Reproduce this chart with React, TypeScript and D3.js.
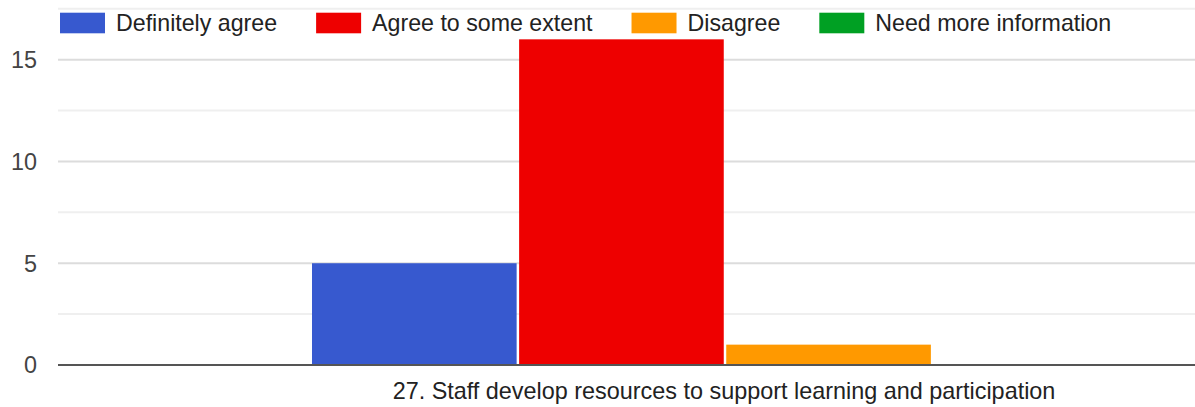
import React, { useMemo } from "react";
import * as d3 from "d3";

// Survey responses for a single statement
const categories = ["27. Staff develop resources to support learning and participation"];
const seriesNames = ["Definitely agree", "Agree to some extent", "Disagree", "Need more information"];
const seriesColors = ["#3759cf", "#ee0000", "#ff9900", "#00a023"];
const seriesValues = [[5], [16], [1], [0]];
const majorTicks = [0, 5, 10, 15];
const minorTicks = [2.5, 7.5, 12.5, 17.5];

const W = 1195;
const H = 407;
const FONT = "Arial, 'Liberation Sans', sans-serif";
const FS = 23.2;
const AXIS_FS = 23.4;

function textWidth(s: string): number {
  const c = document.createElement("canvas").getContext("2d");
  if (!c) return s.length * FS * 0.5;
  c.font = `${FS}px ${FONT}`;
  return c.measureText(s).width;
}

export default function App() {
  const left = 58;
  const right = 1392; // plot continues past the visible frame
  const top = 8.8;
  const bottom = 365;

  const x = d3.scaleBand<string>().domain(categories).range([left, right]).paddingInner(0).paddingOuter(0.3075);
  const xs = d3.scaleBand<string>().domain(seriesNames).range([0, x.bandwidth()]).paddingInner(0.012).paddingOuter(0);
  const y = d3.scaleLinear().domain([0, 17.5]).range([bottom, top]);

  const legend = useMemo(() => {
    let cx = 60;
    return seriesNames.map((name, i) => {
      const item = { name, color: seriesColors[i], x: cx };
      cx += 45 + 11 + textWidth(name) + 39;
      return item;
    });
  }, []);

  return (
    <svg width={W} height={H} style={{ position: "absolute", left: 0, top: 0, display: "block", background: "#fff" }} fontFamily={FONT}>
      {/* gridlines */}
      {minorTicks.map((t) => (
        <line key={"m" + t} x1={left} x2={W} y1={y(t)} y2={y(t)} stroke="#efefef" strokeWidth={2} />
      ))}
      {majorTicks.filter((t) => t !== 0).map((t) => (
        <line key={"g" + t} x1={left} x2={W} y1={y(t)} y2={y(t)} stroke="#dcdcdc" strokeWidth={2} />
      ))}
      {/* y tick labels */}
      {majorTicks.map((t) => (
        <text key={"t" + t} x={37} y={y(t)} dy="0.36em" textAnchor="end" fontSize={AXIS_FS} fill="#444">
          {t}
        </text>
      ))}
      {/* bars */}
      {categories.map((c, ci) => (
        <g key={c} transform={`translate(${x(c)},0)`}>
          {seriesNames.map((s, si) => {
            const v = seriesValues[si][ci];
            if (v <= 0) return null;
            return (
              <rect
                key={s}
                x={xs(s)}
                y={y(v)}
                width={xs.bandwidth()}
                height={y(0) - y(v)}
                fill={seriesColors[si]}
              />
            );
          })}
        </g>
      ))}
      {/* baseline */}
      <line x1={left} x2={W} y1={y(0)} y2={y(0)} stroke="#555" strokeWidth={2} />
      {/* category labels */}
      {categories.map((c) => (
        <text key={"c" + c} x={(x(c) ?? 0) + x.bandwidth() / 2 - 1} y={399} textAnchor="middle" fontSize={AXIS_FS} fill="#222">
          {c}
        </text>
      ))}
      {/* legend */}
      {legend.map((l) => (
        <g key={l.name}>
          <rect x={l.x} y={12.7} width={45} height={20.6} fill={l.color} />
          <text x={l.x + 45 + 11} y={31} fontSize={FS} fill="#222">
            {l.name}
          </text>
        </g>
      ))}
    </svg>
  );
}
